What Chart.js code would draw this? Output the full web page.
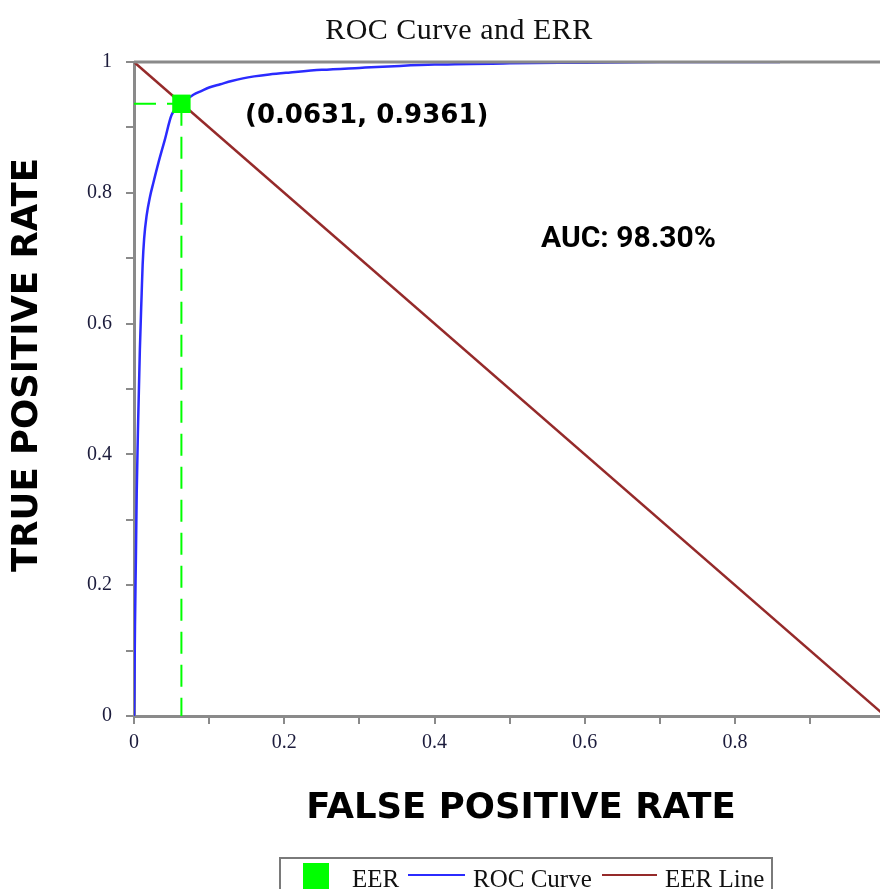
<!DOCTYPE html>
<html>
<head>
<meta charset="utf-8">
<title>ROC Curve and ERR</title>
<script src="https://cdn.jsdelivr.net/npm/chart.js@4/dist/chart.umd.min.js"></script>
<style>
  html, body { margin: 0; padding: 0; background: #fff; }
  #wrap { width: 880px; height: 889px; position: relative; }
</style>
</head>
<body>
<div id="wrap"><canvas id="chartRoc"></canvas></div>
<script>
// данные roc
const rocFpr = [0, 0.0005, 0.0013, 0.0025, 0.0036, 0.0055, 0.0078, 0.0102, 0.0115, 0.0135, 0.0168, 0.0213, 0.0257, 0.0323, 0.041, 0.05, 0.0631, 0.079, 0.09, 0.1, 0.115, 0.13, 0.145, 0.16, 0.18, 0.208, 0.25, 0.3, 0.354, 0.4, 0.5, 0.6, 0.7, 0.86];
const rocTpr = [0, 0.035, 0.137, 0.24, 0.34, 0.45, 0.56, 0.646, 0.69, 0.73, 0.765, 0.794, 0.815, 0.845, 0.881, 0.919, 0.9361, 0.95, 0.956, 0.961, 0.966, 0.971, 0.975, 0.978, 0.981, 0.984, 0.988, 0.991, 0.994, 0.996, 0.998, 0.999, 1.0, 1.0];

// линия eer
const eerLineX = [0, 1];
const eerLineY = [1, 0];

// точка eer
const eerX = 0.0631;
const eerY = 0.9361;

// тики
const xTickValues = [0, 0.1, 0.2, 0.3, 0.4, 0.5, 0.6, 0.7, 0.8, 0.9];
const yTickValues = [0, 0.1, 0.2, 0.3, 0.4, 0.5, 0.6, 0.7, 0.8, 0.9, 1];
const xMax = 0.993;

const legendItems = ['EER', 'ROC Curve', 'EER Line'];

const GREEN = '#00ff00';
const BLUE = '#2b2bff';
const BROWN = '#952a2a';
const AXIS = '#8a8a8a';

const toPoints = (xs, ys) => xs.map((x, i) => ({ x, y: ys[i] }));

// подписи и легенда
const textPlugin = {
  id: 'texts',
  afterDraw(chart) {
    const ctx = chart.ctx;
    const area = chart.chartArea;
    ctx.save();

    // рамка сверху
    ctx.strokeStyle = AXIS;
    ctx.lineWidth = 3;
    ctx.beginPath();
    ctx.moveTo(area.left, area.top);
    ctx.lineTo(chart.width, area.top);
    ctx.stroke();

    ctx.fillStyle = '#111';
    ctx.textBaseline = 'alphabetic';

    ctx.font = '30px "Liberation Serif"';
    ctx.letterSpacing = '0.5px';
    ctx.textAlign = 'center';
    ctx.fillText('ROC Curve and ERR', 459, 39);
    ctx.letterSpacing = '0px';

    ctx.fillStyle = '#000';
    ctx.font = 'bold 35.5px "DejaVu Sans"';
    ctx.fillText('FALSE POSITIVE RATE', 521, 818);

    ctx.save();
    ctx.translate(37, 365);
    ctx.rotate(-Math.PI / 2);
    ctx.fillText('TRUE POSITIVE RATE', 0, 0);
    ctx.restore();

    ctx.textAlign = 'left';
    ctx.font = 'bold 26px "DejaVu Sans"';
    ctx.fillText(`(${eerX.toFixed(4)}, ${eerY.toFixed(4)})`, 245, 123);

    ctx.font = 'bold 30px Roboto';
    ctx.fillText('AUC: 98.30%', 541, 247);

    // легенда
    ctx.strokeStyle = '#7a7a7a';
    ctx.lineWidth = 2;
    ctx.strokeRect(280, 858, 492, 45);

    ctx.fillStyle = GREEN;
    ctx.fillRect(303, 863, 26, 26);

    ctx.lineWidth = 2;
    ctx.strokeStyle = BLUE;
    ctx.beginPath(); ctx.moveTo(408, 875); ctx.lineTo(465, 875); ctx.stroke();
    ctx.strokeStyle = BROWN;
    ctx.beginPath(); ctx.moveTo(602, 875); ctx.lineTo(657, 875); ctx.stroke();

    ctx.fillStyle = '#111';
    ctx.font = '25px "Liberation Serif"';
    ctx.fillText(legendItems[0], 352, 887);
    ctx.fillText(legendItems[1], 473, 887);
    ctx.fillText(legendItems[2], 665, 887);

    ctx.restore();
  },
};

const tickLabel = v => {
  const r = Math.round(v * 10);
  if (r % 2 !== 0) return '';
  return r === 10 ? '1' : r === 0 ? '0' : String(r / 10);
};

new Chart(document.getElementById('chartRoc'), {
  type: 'scatter',
  data: {
    datasets: [
      {
        label: 'EER',
        data: [{ x: eerX, y: eerY }],
        pointStyle: 'rect',
        pointRadius: 13,
        backgroundColor: GREEN,
        borderWidth: 0,
      },
      {
        label: 'eer-h',
        data: [{ x: 0, y: eerY }, { x: eerX, y: eerY }],
        showLine: true,
        borderColor: GREEN,
        borderWidth: 2,
        borderDash: [22, 11],
        pointRadius: 0,
      },
      {
        label: 'eer-v',
        data: [{ x: eerX, y: eerY }, { x: eerX, y: 0 }],
        showLine: true,
        borderColor: GREEN,
        borderWidth: 2,
        borderDash: [22, 11],
        pointRadius: 0,
      },
      {
        label: 'ROC Curve',
        data: toPoints(rocFpr, rocTpr),
        showLine: true,
        borderColor: BLUE,
        borderWidth: 2.5,
        pointRadius: 0,
        cubicInterpolationMode: 'monotone',
      },
      {
        label: 'EER Line',
        data: toPoints(eerLineX, eerLineY),
        showLine: true,
        borderColor: BROWN,
        borderWidth: 2.5,
        pointRadius: 0,
      },
    ],
  },
  options: {
    responsive: true,
    maintainAspectRatio: false,
    animation: false,
    layout: { autoPadding: false, padding: { top: 62, right: 0, bottom: 0, left: 0 } },
    plugins: {
      legend: { display: false },
      title: { display: false },
      tooltip: { enabled: false },
    },
    scales: {
      x: {
        type: 'linear',
        min: 0,
        max: xMax,
        afterFit: s => { s.height = 173; s.paddingRight = 0; s.paddingLeft = 0; },
        afterBuildTicks: s => { s.ticks = xTickValues.map(v => ({ value: v })); },
        border: { color: AXIS, width: 3 },
        grid: { drawOnChartArea: false, tickLength: 8, color: AXIS, lineWidth: 2 },
        ticks: {
          callback: tickLabel,
          color: '#1c1c3c',
          padding: 7,
          maxRotation: 0,
          font: { family: 'Liberation Serif', size: 20 },
        },
      },
      y: {
        type: 'linear',
        min: 0,
        max: 1,
        afterFit: s => { s.width = 134; },
        afterBuildTicks: s => { s.ticks = yTickValues.map(v => ({ value: v })); },
        border: { color: AXIS, width: 3 },
        grid: { drawOnChartArea: false, tickLength: 8, color: AXIS, lineWidth: 2 },
        ticks: {
          callback: tickLabel,
          color: '#1c1c3c',
          padding: 14,
          font: { family: 'Liberation Serif', size: 20 },
        },
      },
    },
  },
  plugins: [textPlugin],
});
</script>
</body>
</html>
